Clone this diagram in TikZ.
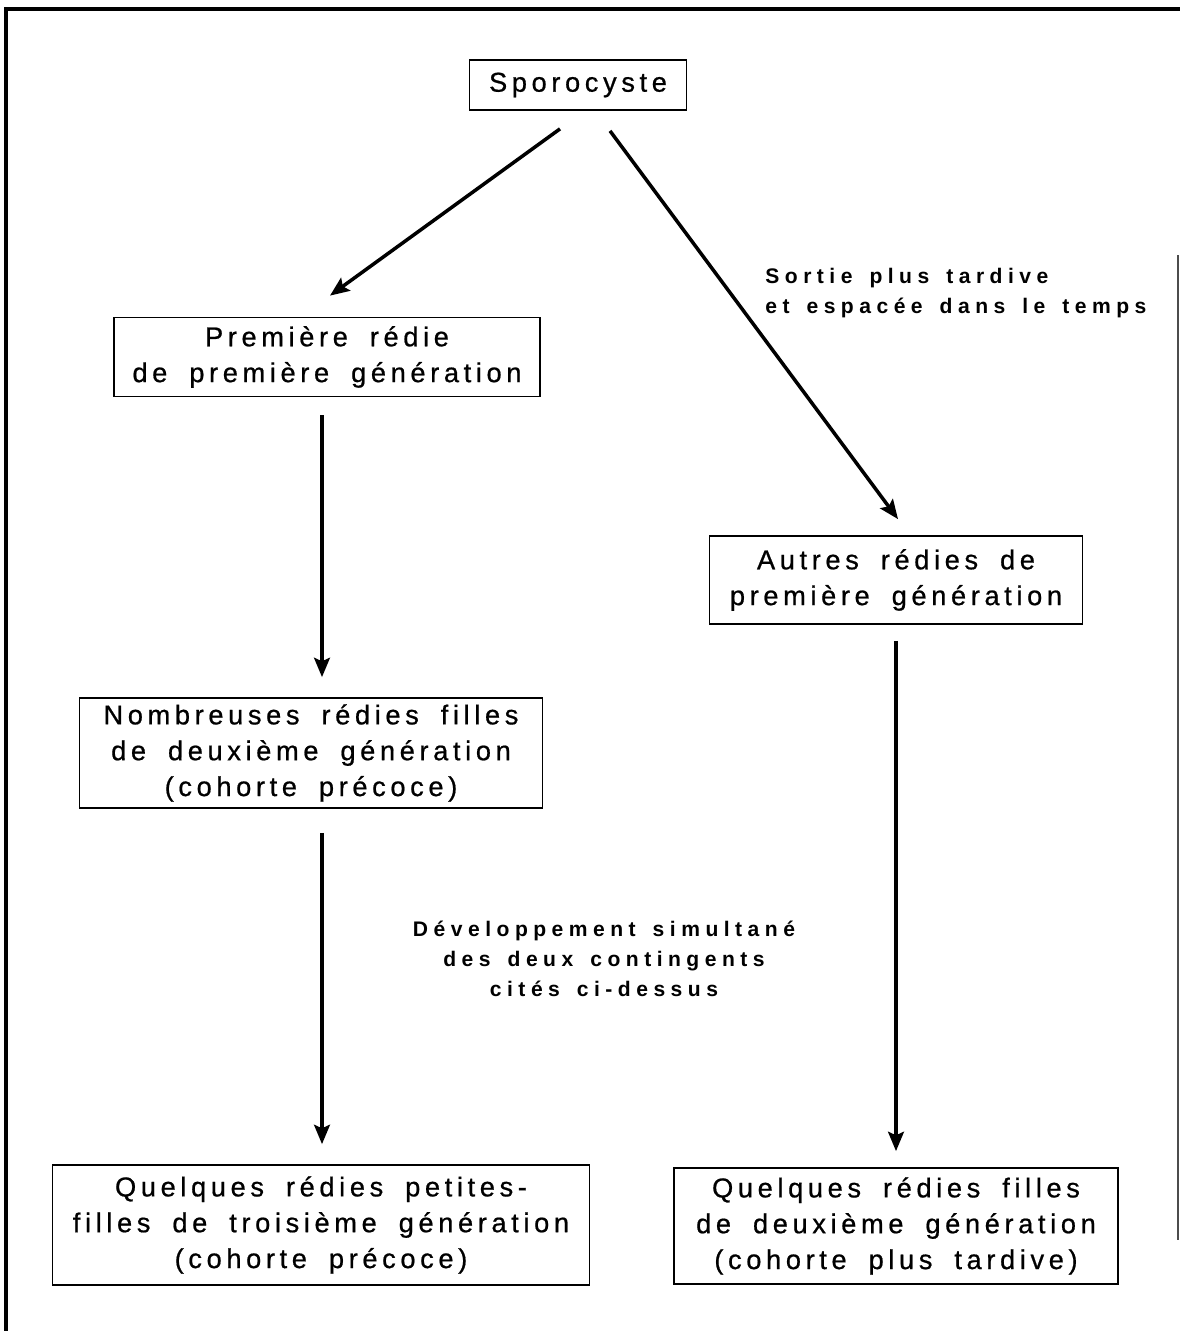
\documentclass[tikz,border=0pt]{standalone}
\usepackage{fontspec}
\usetikzlibrary{arrows.meta,calc}
\newfontfamily\boxfont[LetterSpace=17,WordSpace=1.8,FakeBold=0.7]{Liberation Sans}
\newfontfamily\notefont[LetterSpace=26,WordSpace=1.5]{Liberation Sans Bold}
\begin{document}
\begin{tikzpicture}[x=0.02cm,y=-0.02cm,
  genbox/.style={draw,line width=1pt,inner sep=0pt,align=center,
    font=\boxfont\fontsize{15.5}{20.4}\selectfont},
  arr/.style={line width=2pt,-{Stealth[length=11pt,width=9pt,inset=2pt]}},
  note/.style={inner sep=0pt,font=\notefont\fontsize{12}{17}\selectfont}]
\useasboundingbox (0,0) rectangle (1180,1331);
% outer frame (open at the bottom)
\draw[line width=2pt] (6,1331) -- (6,9) -- (1180,9);
\draw[line width=0.6pt,black!70] (1178,255) -- (1178,1240);

% generation boxes
\node[genbox,minimum width=217*0.02cm,minimum height=50*0.02cm] (spor) at (578,85) {Sporocyste};
\node[genbox,minimum width=426*0.02cm,minimum height=79*0.02cm] (prem) at (327,357)
  {Première rédie\\de première génération};
\node[genbox,minimum width=463*0.02cm,minimum height=110*0.02cm] (nomb) at (311,753)
  {Nombreuses rédies filles\\de deuxième génération\\(cohorte précoce)};
\node[genbox,minimum width=373*0.02cm,minimum height=88*0.02cm] (autr) at (896,580)
  {Autres rédies de\\première génération};
\node[genbox,minimum width=537*0.02cm,minimum height=120*0.02cm] (petf) at (321,1225)
  {Quelques rédies petites-\\filles de troisième génération\\(cohorte précoce)};
\node[genbox,minimum width=444*0.02cm,minimum height=116*0.02cm] (fill) at (896,1226)
  {Quelques rédies filles\\de deuxième génération\\(cohorte plus tardive)};

% notes
\node[note,anchor=west,align=left] (sortie) at (765,293)
  {Sortie plus tardive\\et espacée dans le temps};
\node[note,align=center] (devel) at (604,959)
  {Développement simultané\\des deux contingents\\cités ci-dessus};

% left column coordinate
\coordinate (col) at (322,0);

% connectors
\draw[arr] ($(spor.south)+(-18,18)$) -- ($(prem.north)+(3,-21)$);
\draw[arr] ($(spor.south)+(32,20)$) -- ($(autr.north)+(2,-16)$);
\draw[arr] ($(prem.south -| col)+(0,18)$) -- ($(nomb.north -| col)+(0,-20)$);
\draw[arr] ($(nomb.south -| col)+(0,24)$) -- ($(petf.north -| col)+(0,-20)$);
\draw[arr] ($(autr.south)+(0,16)$) -- ($(fill.north)+(0,-16)$);
\end{tikzpicture}
\end{document}
